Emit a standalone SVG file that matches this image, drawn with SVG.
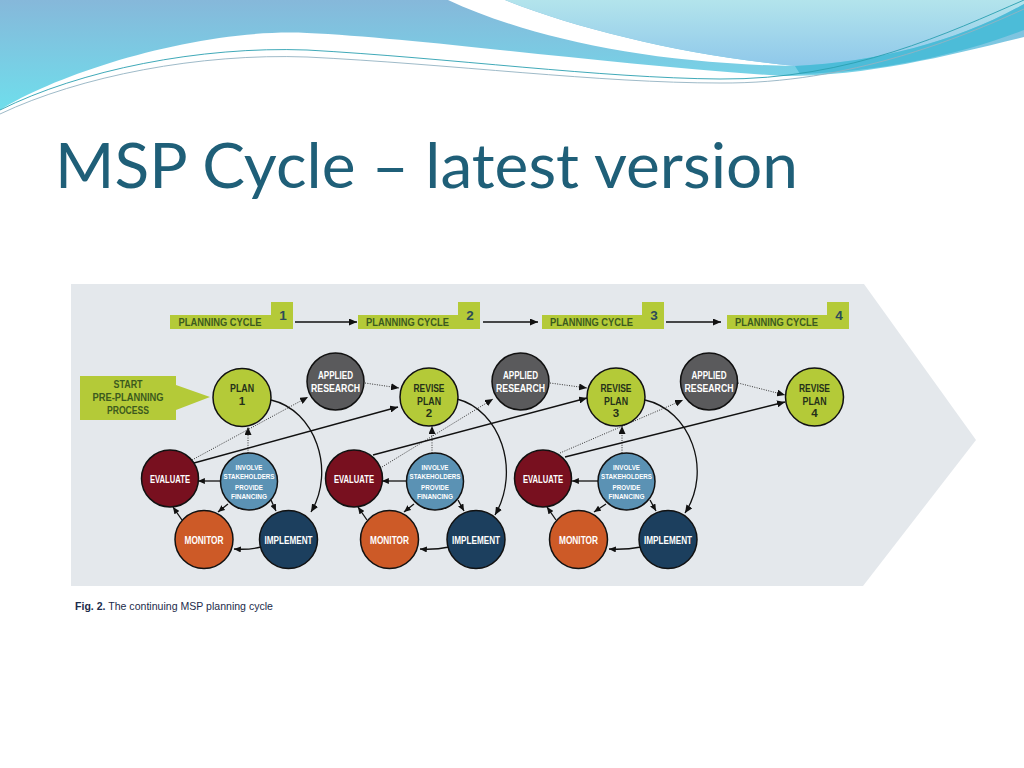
<svg xmlns="http://www.w3.org/2000/svg" width="1024" height="768" viewBox="0 0 1024 768">
<defs>
<linearGradient id="gBand" x1="0" y1="0" x2="0" y2="1">
<stop offset="0" stop-color="#86b8da"/>
<stop offset="1" stop-color="#6fdeec"/>
</linearGradient>
<linearGradient id="gLight" x1="0" y1="0" x2="0" y2="1">
<stop offset="0" stop-color="#b3e4ec"/>
<stop offset="1" stop-color="#8fc8ea"/>
</linearGradient>
<marker id="ah" viewBox="0 0 8 7" refX="8" refY="3.5" markerWidth="8" markerHeight="7" markerUnits="userSpaceOnUse" orient="auto">
<path d="M0,0 L8,3.5 L0,7 z" fill="#111"/>
</marker>
<marker id="ahs" viewBox="0 0 8 7" refX="8" refY="3.5" markerWidth="7" markerHeight="6" markerUnits="userSpaceOnUse" orient="auto">
<path d="M0,0 L8,3.5 L0,7 z" fill="#111"/>
</marker>
</defs>
<style>
.t{font-family:"Liberation Sans",Arial,sans-serif;font-weight:bold;text-anchor:middle}
.w{fill:#ffffff}
.dk{fill:#25311a}
.gn{fill:#3c5a1e}
.num{fill:#2c4a5a;font-size:13.5px}
.pc{font-size:10.5px}
.lbl{font-size:11.5px}
.sm{font-size:7.8px}
.node{stroke:#111;stroke-width:1.5}
.green{fill:#b4ca38}
.gray{fill:#5a5a5c}
.red{fill:#78101f}
.blue{fill:#5b92b4}
.orange{fill:#cd5a27}
.navy{fill:#1c3f5e}
.sol{fill:none;stroke:#111;stroke-width:1.3}
.dot{fill:none;stroke:#333;stroke-width:1;stroke-dasharray:1 1.4}
</style>
<rect x="0" y="0" width="1024" height="768" fill="#ffffff"/>
<g id="background-waves">
<path d="M0,0 H1024 V37 C950,55 870,76 784,76 C600,64 420,38 307,33 C200,28 60,72 0,110 Z" fill="url(#gBand)"/>
<path d="M448,0 L505,0 C580,30 690,56 795,66 C650,64 530,38 448,0 Z" fill="#ffffff"/>
<path d="M505,0 H1024 V4 C960,40 880,62 795,66 C690,56 580,30 505,0 Z" fill="url(#gLight)"/>
<path d="M795,66 C880,62 960,40 1024,4 V30 C960,55 880,72 800,74 Z" fill="#4cbcd8"/>
<path d="M0,110 C80,70 200,46 307,50 C450,58 600,78 720,79 C850,80 950,32 1024,0" fill="none" stroke="#2a9fb0" stroke-width="0.9"/>
<path d="M0,114 C80,76 200,53 307,57 C450,64 600,83 720,83 C850,84 960,38 1024,9" fill="none" stroke="#93b2c2" stroke-width="0.9"/>
</g>
<text x="55" y="188" font-family="Lato,'Liberation Sans',sans-serif" font-size="62" fill="#1f5f78" textLength="743" lengthAdjust="spacingAndGlyphs">MSP Cycle – latest version</text>
<g id="figure-panel">
<rect x="62" y="275" width="913" height="347" fill="#ffffff"/>
<polygon points="71,284 864,284 976,440 863,586 71,586" fill="#e4e8ec"/>
</g>
<g id="planning-cycle-1">
<rect x="170" y="315" width="101" height="14" class="green"/>
<rect x="271" y="302" width="22" height="27" class="green"/>
<text x="220" y="326" class="t pc gn" textLength="83" lengthAdjust="spacingAndGlyphs">PLANNING CYCLE</text>
<text x="283" y="320" class="t num">1</text>
</g>
<g id="planning-cycle-2">
<rect x="358" y="315" width="100" height="14" class="green"/>
<rect x="458" y="302" width="22" height="27" class="green"/>
<text x="407.5" y="326" class="t pc gn" textLength="83" lengthAdjust="spacingAndGlyphs">PLANNING CYCLE</text>
<text x="470" y="320" class="t num">2</text>
</g>
<g id="planning-cycle-3">
<rect x="542" y="315" width="100" height="14" class="green"/>
<rect x="642" y="302" width="22" height="27" class="green"/>
<text x="591.5" y="326" class="t pc gn" textLength="83" lengthAdjust="spacingAndGlyphs">PLANNING CYCLE</text>
<text x="654" y="320" class="t num">3</text>
</g>
<g id="planning-cycle-4">
<rect x="727" y="315" width="100" height="14" class="green"/>
<rect x="827" y="302" width="22" height="27" class="green"/>
<text x="776.5" y="326" class="t pc gn" textLength="83" lengthAdjust="spacingAndGlyphs">PLANNING CYCLE</text>
<text x="839" y="320" class="t num">4</text>
</g>
<g id="start">
<polygon points="80,376 176,376 176,385 210,397 176,410 176,420 80,420" class="green"/>
<text x="128" y="388" class="t lbl gn" textLength="29" lengthAdjust="spacingAndGlyphs">START</text>
<text x="128" y="400.5" class="t lbl gn" textLength="71" lengthAdjust="spacingAndGlyphs">PRE-PLANNING</text>
<text x="128" y="413.5" class="t lbl gn" textLength="42" lengthAdjust="spacingAndGlyphs">PROCESS</text>
</g>
<g id="connectors">
<path d="M295,322 L357,322" class="sol" marker-end="url(#ah)"/>
<path d="M483,322 L538,322" class="sol" marker-end="url(#ah)"/>
<path d="M666,322 L721,322" class="sol" marker-end="url(#ah)"/>
<!-- cycle 1 -->
<path d="M271,400 C315,410 336,470 311,512" class="sol" marker-end="url(#ah)"/>
<path d="M248,453 L248,427" class="dot" marker-end="url(#ah)"/>
<path d="M192,460 L308,397" class="dot" marker-end="url(#ah)"/>
<path d="M194,463 L398,407" class="sol" marker-end="url(#ah)"/>
<path d="M365,383 L399,388" class="dot" marker-end="url(#ah)"/>
<path d="M221,481 L198,481" class="sol" marker-end="url(#ahs)"/>
<path d="M228,504 L218,512" class="sol" marker-end="url(#ahs)"/>
<path d="M271,500 L276,511" class="sol" marker-end="url(#ahs)"/>
<path d="M261,547 Q249,550 234,549" class="sol" marker-end="url(#ahs)"/>
<path d="M182,520 L173,507" class="sol" marker-end="url(#ahs)"/>
<!-- cycle 2 -->
<path d="M457,399 C500,410 521,470 495,515" class="sol" marker-end="url(#ah)"/>
<path d="M432,453 L432,426" class="dot" marker-end="url(#ah)"/>
<path d="M382,467 L493,399" class="dot" marker-end="url(#ah)"/>
<path d="M373,455 L587,398" class="sol" marker-end="url(#ah)"/>
<path d="M550,383 L587,388" class="dot" marker-end="url(#ah)"/>
<path d="M407,481 L382,481" class="sol" marker-end="url(#ahs)"/>
<path d="M414,504 L404,512" class="sol" marker-end="url(#ahs)"/>
<path d="M458,500 L464,511" class="sol" marker-end="url(#ahs)"/>
<path d="M449,547 Q435,550 420,549" class="sol" marker-end="url(#ahs)"/>
<path d="M367,520 L358,507" class="sol" marker-end="url(#ahs)"/>
<!-- cycle 3 -->
<path d="M645,400 C690,410 713,470 685,513" class="sol" marker-end="url(#ah)"/>
<path d="M622,453 L622,426" class="dot" marker-end="url(#ah)"/>
<path d="M560,453 L683,400" class="dot" marker-end="url(#ah)"/>
<path d="M565,457 L785,402" class="sol" marker-end="url(#ah)"/>
<path d="M738,383 L785,395" class="dot" marker-end="url(#ah)"/>
<path d="M598,481 L572,481" class="sol" marker-end="url(#ahs)"/>
<path d="M606,504 L594,512" class="sol" marker-end="url(#ahs)"/>
<path d="M650,500 L656,511" class="sol" marker-end="url(#ahs)"/>
<path d="M641,547 Q625,550 609,549" class="sol" marker-end="url(#ahs)"/>
<path d="M556,520 L547,507" class="sol" marker-end="url(#ahs)"/>
</g>
<!-- top nodes -->
<g id="plan-1"><circle cx="242" cy="397.5" r="29" class="node green"/>
<text x="242" y="392" class="t lbl dk" textLength="24" lengthAdjust="spacingAndGlyphs">PLAN</text>
<text x="242" y="404.5" class="t lbl dk">1</text></g>
<g id="applied-research-1"><circle cx="335.5" cy="381.5" r="28.5" class="node gray"/>
<text x="335.5" y="379" class="t lbl w" textLength="35" lengthAdjust="spacingAndGlyphs">APPLIED</text>
<text x="335.5" y="392" class="t lbl w" textLength="49" lengthAdjust="spacingAndGlyphs">RESEARCH</text></g>
<g id="revise-plan-2"><circle cx="429" cy="397" r="29" class="node green"/>
<text x="429" y="392" class="t lbl dk" textLength="31" lengthAdjust="spacingAndGlyphs">REVISE</text>
<text x="429" y="404.5" class="t lbl dk" textLength="24" lengthAdjust="spacingAndGlyphs">PLAN</text>
<text x="429" y="417" class="t lbl dk">2</text></g>
<g id="applied-research-2"><circle cx="520.5" cy="381.5" r="28.5" class="node gray"/>
<text x="520.5" y="379" class="t lbl w" textLength="35" lengthAdjust="spacingAndGlyphs">APPLIED</text>
<text x="520.5" y="392" class="t lbl w" textLength="49" lengthAdjust="spacingAndGlyphs">RESEARCH</text></g>
<g id="revise-plan-3"><circle cx="616" cy="397" r="29" class="node green"/>
<text x="616" y="392" class="t lbl dk" textLength="31" lengthAdjust="spacingAndGlyphs">REVISE</text>
<text x="616" y="404.5" class="t lbl dk" textLength="24" lengthAdjust="spacingAndGlyphs">PLAN</text>
<text x="616" y="417" class="t lbl dk">3</text></g>
<g id="applied-research-3"><circle cx="709" cy="381.5" r="28.5" class="node gray"/>
<text x="709" y="379" class="t lbl w" textLength="35" lengthAdjust="spacingAndGlyphs">APPLIED</text>
<text x="709" y="392" class="t lbl w" textLength="49" lengthAdjust="spacingAndGlyphs">RESEARCH</text></g>
<g id="revise-plan-4"><circle cx="814.5" cy="397" r="29" class="node green"/>
<text x="814.5" y="392" class="t lbl dk" textLength="31" lengthAdjust="spacingAndGlyphs">REVISE</text>
<text x="814.5" y="404.5" class="t lbl dk" textLength="24" lengthAdjust="spacingAndGlyphs">PLAN</text>
<text x="814.5" y="417" class="t lbl dk">4</text></g>
<!-- cycle 1 bottom nodes -->
<g id="evaluate-1"><circle cx="170" cy="478.5" r="28.5" class="node red"/>
<text x="170" y="483" class="t lbl w" textLength="40" lengthAdjust="spacingAndGlyphs">EVALUATE</text></g>
<g id="involve-1"><circle cx="249" cy="481.5" r="28.5" class="node blue"/>
<text x="249" y="469.5" class="t sm w" textLength="27" lengthAdjust="spacingAndGlyphs">INVOLVE</text>
<text x="249" y="478.5" class="t sm w" textLength="51" lengthAdjust="spacingAndGlyphs">STAKEHOLDERS</text>
<text x="249" y="490" class="t sm w" textLength="28" lengthAdjust="spacingAndGlyphs">PROVIDE</text>
<text x="249" y="499" class="t sm w" textLength="36" lengthAdjust="spacingAndGlyphs">FINANCING</text></g>
<g id="monitor-1"><circle cx="204" cy="539.5" r="29" class="node orange"/>
<text x="204" y="543.5" class="t lbl w" textLength="39" lengthAdjust="spacingAndGlyphs">MONITOR</text></g>
<g id="implement-1"><circle cx="288.5" cy="539.5" r="29" class="node navy"/>
<text x="288.5" y="543.5" class="t lbl w" textLength="48" lengthAdjust="spacingAndGlyphs">IMPLEMENT</text></g>
<!-- cycle 2 bottom nodes -->
<g id="evaluate-2"><circle cx="354" cy="478.5" r="28.5" class="node red"/>
<text x="354" y="483" class="t lbl w" textLength="40" lengthAdjust="spacingAndGlyphs">EVALUATE</text></g>
<g id="involve-2"><circle cx="435" cy="481.5" r="28.5" class="node blue"/>
<text x="435" y="469.5" class="t sm w" textLength="27" lengthAdjust="spacingAndGlyphs">INVOLVE</text>
<text x="435" y="478.5" class="t sm w" textLength="51" lengthAdjust="spacingAndGlyphs">STAKEHOLDERS</text>
<text x="435" y="490" class="t sm w" textLength="28" lengthAdjust="spacingAndGlyphs">PROVIDE</text>
<text x="435" y="499" class="t sm w" textLength="36" lengthAdjust="spacingAndGlyphs">FINANCING</text></g>
<g id="monitor-2"><circle cx="389.5" cy="539.5" r="29" class="node orange"/>
<text x="389.5" y="543.5" class="t lbl w" textLength="39" lengthAdjust="spacingAndGlyphs">MONITOR</text></g>
<g id="implement-2"><circle cx="476" cy="539.5" r="29" class="node navy"/>
<text x="476" y="543.5" class="t lbl w" textLength="48" lengthAdjust="spacingAndGlyphs">IMPLEMENT</text></g>
<!-- cycle 3 bottom nodes -->
<g id="evaluate-3"><circle cx="543" cy="478.5" r="28.5" class="node red"/>
<text x="543" y="483" class="t lbl w" textLength="40" lengthAdjust="spacingAndGlyphs">EVALUATE</text></g>
<g id="involve-3"><circle cx="626.5" cy="481.5" r="28.5" class="node blue"/>
<text x="626.5" y="469.5" class="t sm w" textLength="27" lengthAdjust="spacingAndGlyphs">INVOLVE</text>
<text x="626.5" y="478.5" class="t sm w" textLength="51" lengthAdjust="spacingAndGlyphs">STAKEHOLDERS</text>
<text x="626.5" y="490" class="t sm w" textLength="28" lengthAdjust="spacingAndGlyphs">PROVIDE</text>
<text x="626.5" y="499" class="t sm w" textLength="36" lengthAdjust="spacingAndGlyphs">FINANCING</text></g>
<g id="monitor-3"><circle cx="578.5" cy="539.5" r="29" class="node orange"/>
<text x="578.5" y="543.5" class="t lbl w" textLength="39" lengthAdjust="spacingAndGlyphs">MONITOR</text></g>
<g id="implement-3"><circle cx="668" cy="539.5" r="29" class="node navy"/>
<text x="668" y="543.5" class="t lbl w" textLength="48" lengthAdjust="spacingAndGlyphs">IMPLEMENT</text></g>
<text x="75" y="610" font-family="'Liberation Sans',Arial,sans-serif" font-size="10.8" fill="#1c2b4a" textLength="198" lengthAdjust="spacingAndGlyphs"><tspan font-weight="bold">Fig. 2.</tspan> The continuing MSP planning cycle</text>
</svg>
